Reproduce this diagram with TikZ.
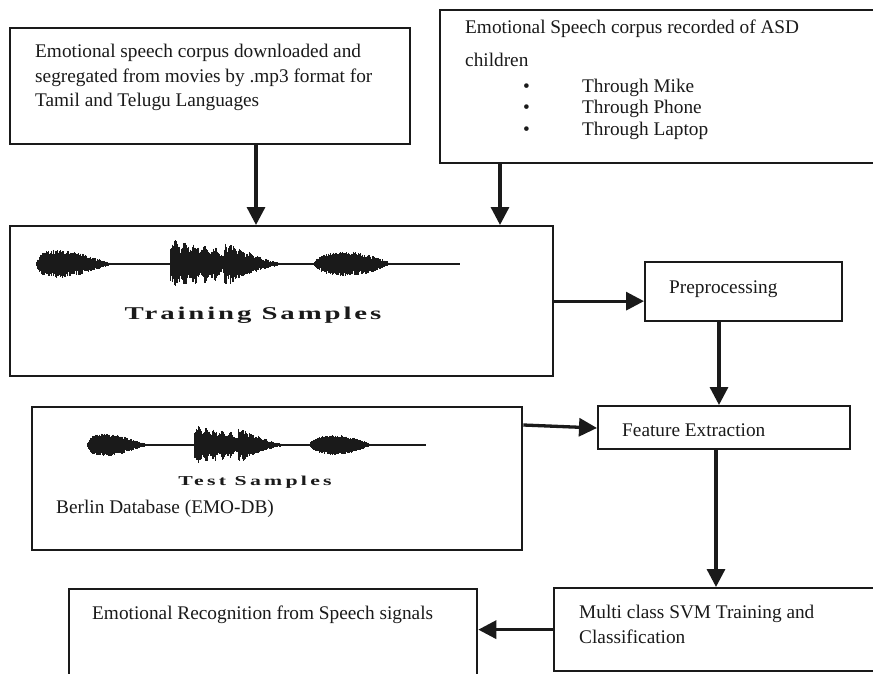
\documentclass[tikz,border=0pt]{standalone}
\usepackage{fontspec}
\setmainfont{Liberation Serif}
\usetikzlibrary{arrows.meta,calc}
\definecolor{ink}{HTML}{1A1A1A}

% speech waveform: starts at the origin, runs 423 units to the right
\newcommand\speechwave{%
  \draw[line width=1.1pt,ink] (0,0) -- (423,0);
  \pgfmathsetseed{11}
  \foreach \x in {0,0.7,...,356} {
    \pgfmathsetmacro\ta{max(0.001,min(0.999,\x/78))}
    \pgfmathsetmacro\tb{max(0.001,min(0.999,(\x-133)/50))}
    \pgfmathsetmacro\tc{max(0.001,min(0.999,(\x-187)/66))}
    \pgfmathsetmacro\td{max(0.001,min(0.999,(\x-277)/79))}
    \pgfmathsetmacro\amp{(\x<=78)*36*\ta^0.4*(1-\ta)^1.2
      + (\x>=133)*(\x<183)*25*(1-0.32*\tb)*(0.85+0.15*sin(\x*37))
      + (\x>=183)*(\x<187)*9
      + (\x>=187)*(\x<=253)*25*(1-\tc)^1.5*(0.88+0.12*sin(\x*41))
      + (\x>=277)*(\x<=356)*37*\td^0.6*(1-\td)}
    \pgfmathsetmacro\up{\amp*(0.55+0.45*rnd^0.6)}
    \pgfmathsetmacro\dn{\amp*(0.55+0.45*rnd^0.6)}
    \ifdim\amp pt>0.6pt
      \draw[line width=1.1pt,ink] (\x,-\up) -- (\x,\dn);
    \fi
  }%
}

\begin{document}
\begin{tikzpicture}[x=1pt,y=-1pt,
  box/.style={draw=ink,line width=2.3pt,inner sep=0pt,anchor=north west},
  txt/.style={anchor=base west,inner sep=0pt,text=ink,
              font=\fontsize{19.3}{24.5}\selectfont},
  multi/.style={txt,align=left},
  wavelabel/.style={anchor=base,inner sep=0pt,text=ink},
  arr/.style={draw=ink,line width=3.3pt,-{Triangle[length=18pt,width=18pt]}},
]
\useasboundingbox (0,0) rectangle (873,674);
\clip (0,0) rectangle (873,674);
\fill[white] (0,0) rectangle (873,674);

% boxes
\node[box,minimum width=400pt,minimum height=116pt] (src1) at (9,27) {};
\node[box,minimum width=451pt,minimum height=153pt] (src2) at (439,9) {};
\node[box,minimum width=543pt,minimum height=150pt] (train) at (9,225) {};
\node[box,minimum width=490pt,minimum height=143pt] (test) at (31,406) {};
\node[box,minimum width=197pt,minimum height=59pt] (pre) at (644,261) {};
\node[box,minimum width=252pt,minimum height=43pt] (feat) at (597,405) {};
\node[box,minimum width=340pt,minimum height=83pt] (svm) at (553,587) {};
\node[box,minimum width=408pt,minimum height=120pt] (out) at (68,588) {};

% box texts (multi-line nodes are placed by the baseline of their last line)
\node[multi] (t1) at (35,107) {Emotional speech corpus downloaded and\\
  segregated from movies by .mp3 format for\\Tamil and Telugu Languages};
\node[txt] (t2a) at (465,34) {Emotional Speech corpus recorded of ASD};
\node[txt] (t2b) at (465,67) {children};
\node[txt] (b1) at (523,92.7) {•};
\node[txt] (b2) at (523,114) {•};
\node[txt] (b3) at (523,136) {•};
\node[txt] (m1) at (582,92.7) {Through Mike};
\node[txt] (m2) at (582,114) {Through Phone};
\node[txt] (m3) at (582,136) {Through Laptop};
\node[txt] (tpre) at (669,293) {Preprocessing};
\node[txt] (tfeat) at (622,436) {Feature Extraction};
\node[multi] (tsvm) at (579,643) {Multi class SVM Training and\\Classification};
\node[txt] (tout) at (92,619) {Emotional Recognition from Speech signals};
\node[txt] (tber) at (56,513) {Berlin Database (EMO-DB)};

% waveforms with captions
\begin{scope}[shift={(37,264)}]
  \speechwave
\end{scope}
\node[wavelabel,xscale=1.6,
  font=\fontsize{18}{20}\selectfont\bfseries\addfontfeature{LetterSpace=10}]
  (ttrain) at (253,319) {Training Samples};
\begin{scope}[shift={(88,445)},scale=0.8]
  \speechwave
\end{scope}
\node[wavelabel,xscale=1.6,
  font=\fontsize{13.6}{15}\selectfont\bfseries\addfontfeature{LetterSpace=15}]
  (ttest) at (255,485) {Test Samples};

% connectors
\coordinate (a1) at ([xshift=247pt]src1.south west);
\draw[arr] (a1) -- (a1 |- train.north);
\coordinate (a2) at ([xshift=61pt]src2.south west);
\draw[arr] (a2) -- (a2 |- train.north);
\draw[arr] (train.east) -- (train.east -| pre.west);
\coordinate (a3) at ([xshift=75pt]pre.south west);
\draw[arr] (a3) -- (a3 |- feat.north);
\coordinate (a4) at ([yshift=-19pt]test.north east);
\coordinate (a5) at ([yshift=-23pt]feat.north west);
\draw[arr] (a4) -- (a5);
\coordinate (a6) at ([xshift=119pt]feat.south west);
\draw[arr] (a6) -- (a6 |- svm.north);
\draw[arr] (svm.west) -- (svm.west -| out.east);
\end{tikzpicture}
\end{document}
